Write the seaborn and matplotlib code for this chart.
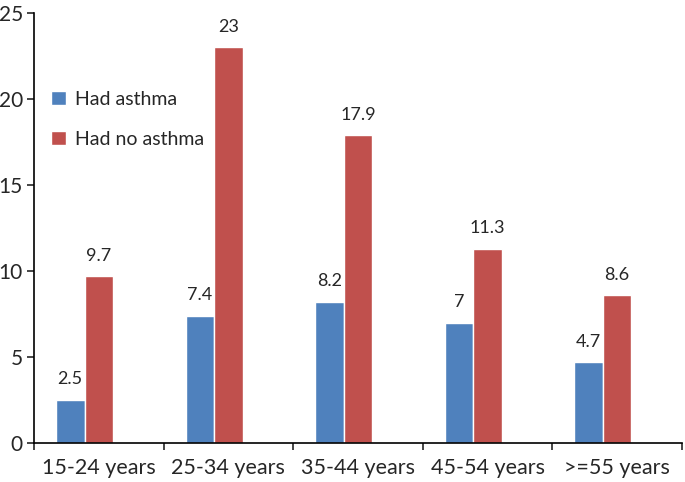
import pandas as pd
import seaborn as sns
import matplotlib.pyplot as plt

# asthma vs no asthma, percent by age group
ages = ["15-24 years", "25-34 years", "35-44 years", "45-54 years", ">=55 years"]
had_asthma = [2.5, 7.4, 8.2, 7, 4.7]
no_asthma = [9.7, 23, 17.9, 11.3, 8.6]

df = pd.DataFrame({"age": ages * 2,
                   "value": had_asthma + no_asthma,
                   "group": ["Had asthma"] * 5 + ["Had no asthma"] * 5})

sns.set_style("white")
plt.rcParams["font.family"] = ["Lato", "DejaVu Sans"]

fig = plt.figure(figsize=(6.85, 4.82), dpi=100)
ax = fig.add_axes([0.0496, 0.081, 0.946, 0.892])

sns.barplot(data=df, x="age", y="value", hue="group", order=ages,
            palette=["#4F81BD", "#C0504D"], width=0.44, saturation=1,
            ax=ax)

# excel puts the bar pair a bit left of the category centre
for p in ax.patches:
    p.set_x(p.get_x() - 0.11)

for cont in ax.containers:
    ax.bar_label(cont, labels=[f"{v:g}" for v in cont.datavalues],
                 padding=9, fontsize=13)

ax.set_ylim(0, 25)
ax.set_xlim(-0.5, 4.5)
ax.set_yticks([0, 5, 10, 15, 20, 25])
ax.set_xticks([x - 0.5 for x in range(6)], minor=True)
ax.tick_params(axis="x", which="major", length=0, labelsize=15.5, pad=11)
ax.tick_params(axis="x", which="minor", length=5, width=1.2, direction="out")
ax.tick_params(axis="y", length=5, width=1.2, direction="out", labelsize=15, pad=3)
ax.xaxis.set_ticks_position("bottom")
ax.yaxis.set_ticks_position("left")
ax.set_xlabel("")
ax.set_ylabel("")
for s in ["top", "right"]:
    ax.spines[s].set_visible(False)
for s in ["left", "bottom"]:
    ax.spines[s].set_color("black")
    ax.spines[s].set_linewidth(1.2)

ax.legend(loc="upper left", bbox_to_anchor=(0.0, 0.86), frameon=False,
          fontsize=14, handlelength=0.75, handleheight=0.75,
          handletextpad=0.45, labelspacing=1.2)

plt.savefig("out.png", dpi=100)
